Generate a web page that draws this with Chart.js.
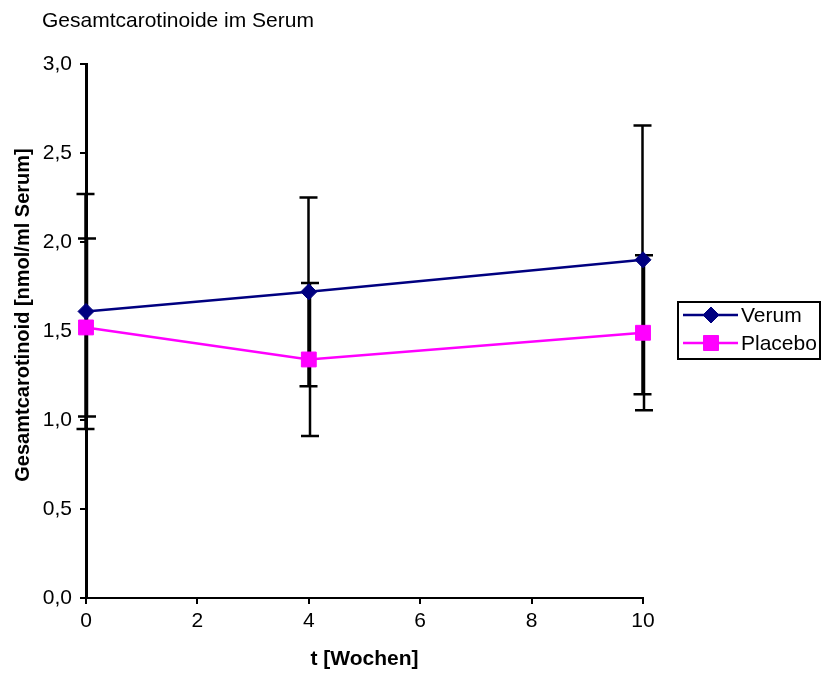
<!DOCTYPE html>
<html>
<head>
<meta charset="utf-8">
<script src="https://cdn.jsdelivr.net/npm/chart.js@4"></script>
<style>
  html, body { margin: 0; padding: 0; background: #fff; }
</style>
</head>
<body>
<canvas id="myChart" width="822" height="673"></canvas>
<script>
const weeks = [0, 4, 10];
const verum = [1.61, 1.72, 1.90];
const verumErr = [0.66, 0.53, 0.755];
const placebo = [1.52, 1.34, 1.49];
const placeboErr = [0.50, 0.43, 0.435];
const xTicks = [0, 2, 4, 6, 8, 10];
const yTicks = [0, 0.5, 1, 1.5, 2, 2.5, 3];

const FONT = "'Liberation Sans', Arial, sans-serif";

// error bars, drawn under the markers
const errorBars = {
  id: "errorBars",
  beforeDatasetsDraw(chart) {
    const { ctx, scales: { x, y } } = chart;
    ctx.save();
    ctx.strokeStyle = "#000";
    ctx.lineWidth = 2.5;
    [[verum, verumErr, -0.5], [placebo, placeboErr, 1]].forEach(([vals, errs, dx]) => {
      weeks.forEach((w, i) => {
        const px = Math.round(x.getPixelForValue(w)) + dx;
        const top = y.getPixelForValue(vals[i] + errs[i]);
        const bot = y.getPixelForValue(vals[i] - errs[i]);
        ctx.beginPath();
        ctx.moveTo(px, top); ctx.lineTo(px, bot);
        ctx.moveTo(px - 9, top); ctx.lineTo(px + 9, top);
        ctx.moveTo(px - 9, bot); ctx.lineTo(px + 9, bot);
        ctx.stroke();
      });
    });
    ctx.restore();
  }
};

// titles + boxed legend like the excel one
const extras = {
  id: "extras",
  afterDraw(chart) {
    const ctx = chart.ctx;
    ctx.save();
    ctx.fillStyle = "#000";
    ctx.font = "21px " + FONT;
    ctx.textBaseline = "middle";
    ctx.fillText("Gesamtcarotinoide im Serum", 42, 21);

    // y title
    ctx.save();
    ctx.translate(23, 315);
    ctx.rotate(-Math.PI / 2);
    ctx.textAlign = "center";
    ctx.font = "bold 20px " + FONT;
    ctx.fillText("Gesamtcarotinoid [nmol/ml Serum]", 0, 0);
    ctx.restore();

    ctx.font = "21px " + FONT;
    ctx.strokeStyle = "#000";
    ctx.lineWidth = 2;
    ctx.strokeRect(678, 302, 142, 57);

    chart.data.datasets.forEach((ds, i) => {
      const ly = 315 + i * 28;
      ctx.strokeStyle = ds.borderColor;
      ctx.lineWidth = 2.5;
      ctx.beginPath();
      ctx.moveTo(683, ly); ctx.lineTo(738, ly);
      ctx.stroke();
      ctx.lineWidth = 1;
      Chart.helpers.drawPoint(ctx, {
        pointStyle: ds.pointStyle, radius: ds.pointRadius, borderWidth: 1, rotation: 0
      }, 711, ly);
      ctx.fillStyle = ds.backgroundColor;
      ctx.fill();
      ctx.fillStyle = "#000";
      ctx.fillText(ds.label, 741, ly + 1);
    });
    ctx.restore();
  }
};

const data = {
  datasets: [
    {
      label: "Verum",
      data: weeks.map((w, i) => ({ x: w, y: verum[i] })),
      borderColor: "#000080",
      backgroundColor: "#000080",
      borderWidth: 2.5,
      pointStyle: "rectRot",
      pointRadius: 8,
      pointBorderWidth: 1,
      clip: false,
    },
    {
      label: "Placebo",
      data: weeks.map((w, i) => ({ x: w, y: placebo[i] })),
      borderColor: "#FF00FF",
      backgroundColor: "#FF00FF",
      borderWidth: 2.5,
      pointStyle: "rect",
      pointRadius: 10.5,
      pointBorderWidth: 1,
      clip: false,
    },
  ],
};

const config = {
  type: "line",
  data: data,
  plugins: [errorBars, extras],
  options: {
    responsive: false,
    animation: false,
    layout: { padding: { left: 0, top: 64, right: 179, bottom: 0 } },
    plugins: {
      legend: { display: false },
      tooltip: { enabled: false },
    },
    scales: {
      x: {
        type: "linear",
        min: 0,
        max: 10,
        afterBuildTicks: (s) => { s.ticks = xTicks.map((v) => ({ value: v })); },
        afterFit: (s) => { s.height = 75; },
        grid: { drawOnChartArea: false, drawTicks: true, tickLength: 6, color: "#000", lineWidth: 2 },
        border: { display: true, color: "#000", width: 2 },
        ticks: { color: "#000", padding: 5, font: { family: FONT, size: 21 } },
        title: {
          display: true,
          text: "t [Wochen]",
          color: "#000",
          padding: { top: 0, bottom: 1 },
          font: { family: FONT, size: 21, weight: "bold" },
        },
      },
      y: {
        min: 0,
        max: 3,
        afterBuildTicks: (s) => { s.ticks = yTicks.map((v) => ({ value: v })); },
        afterFit: (s) => { s.width = 86; },
        grid: { drawOnChartArea: false, drawTicks: true, tickLength: 6, color: "#000", lineWidth: 2 },
        border: { display: true, color: "#000", width: 3 },
        ticks: {
          color: "#000",
          padding: 8,
          font: { family: FONT, size: 21 },
          callback: (v) => v.toFixed(1).replace(".", ","),
        },
      },
    },
  },
};

var myChart = new Chart(document.getElementById("myChart"), config);
</script>
</body>
</html>
